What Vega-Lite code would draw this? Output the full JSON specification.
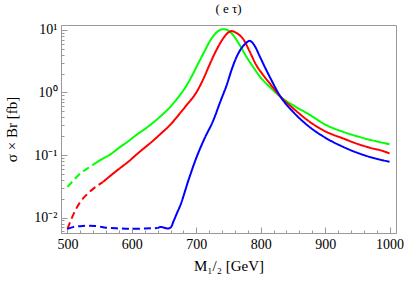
{
  "$schema": "https://vega.github.io/schema/vega-lite/v6.json",
  "width": 335,
  "height": 208,
  "autosize": {"type": "none"},
  "padding": {"left": 61, "top": 25, "right": 11, "bottom": 49},
  "background": "white",
  "title": {"text": "( e  τ)", "font": "Liberation Serif", "fontSize": 13, "fontWeight": "normal", "color": "black", "offset": 7},
  "config": {
    "view": {"stroke": "#999999", "strokeWidth": 1},
    "axis": {"grid": false, "domainColor": "#999999", "tickColor": "#999999", "labelFont": "Liberation Serif", "labelFontSize": 14, "labelColor": "black", "titleFont": "Liberation Serif", "titleFontSize": 15, "titleFontWeight": "normal", "titleColor": "black", "labelOverlap": false}
  },
  "data": {"values": [
    {"s": "g", "seg": "gd", "dash": "d", "x": 500, "y": 0.031},
    {"s": "g", "seg": "gd", "dash": "d", "x": 510, "y": 0.040},
    {"s": "g", "seg": "gd", "dash": "d", "x": 520, "y": 0.051},
    {"s": "g", "seg": "gd", "dash": "d", "x": 530, "y": 0.060},
    {"s": "g", "seg": "gd", "dash": "d", "x": 540, "y": 0.070},
    {"s": "g", "seg": "gs", "dash": "s", "x": 540, "y": 0.070},
    {"s": "g", "seg": "gs", "dash": "s", "x": 550, "y": 0.082},
    {"s": "g", "seg": "gs", "dash": "s", "x": 565, "y": 0.100},
    {"s": "g", "seg": "gs", "dash": "s", "x": 582, "y": 0.135},
    {"s": "g", "seg": "gs", "dash": "s", "x": 595, "y": 0.168},
    {"s": "g", "seg": "gs", "dash": "s", "x": 607, "y": 0.21},
    {"s": "g", "seg": "gs", "dash": "s", "x": 620, "y": 0.26},
    {"s": "g", "seg": "gs", "dash": "s", "x": 633, "y": 0.33},
    {"s": "g", "seg": "gs", "dash": "s", "x": 646, "y": 0.43},
    {"s": "g", "seg": "gs", "dash": "s", "x": 659, "y": 0.58},
    {"s": "g", "seg": "gs", "dash": "s", "x": 672, "y": 0.84},
    {"s": "g", "seg": "gs", "dash": "s", "x": 685, "y": 1.3},
    {"s": "g", "seg": "gs", "dash": "s", "x": 695, "y": 2.0},
    {"s": "g", "seg": "gs", "dash": "s", "x": 705, "y": 3.2},
    {"s": "g", "seg": "gs", "dash": "s", "x": 713, "y": 4.6},
    {"s": "g", "seg": "gs", "dash": "s", "x": 721, "y": 6.6},
    {"s": "g", "seg": "gs", "dash": "s", "x": 729, "y": 8.6},
    {"s": "g", "seg": "gs", "dash": "s", "x": 737, "y": 10.0},
    {"s": "g", "seg": "gs", "dash": "s", "x": 742, "y": 10.3},
    {"s": "g", "seg": "gs", "dash": "s", "x": 748, "y": 10.0},
    {"s": "g", "seg": "gs", "dash": "s", "x": 757, "y": 8.3},
    {"s": "g", "seg": "gs", "dash": "s", "x": 768, "y": 5.6},
    {"s": "g", "seg": "gs", "dash": "s", "x": 778, "y": 3.7},
    {"s": "g", "seg": "gs", "dash": "s", "x": 789, "y": 2.5},
    {"s": "g", "seg": "gs", "dash": "s", "x": 799, "y": 1.78},
    {"s": "g", "seg": "gs", "dash": "s", "x": 815, "y": 1.2},
    {"s": "g", "seg": "gs", "dash": "s", "x": 831, "y": 0.85},
    {"s": "g", "seg": "gs", "dash": "s", "x": 852, "y": 0.61},
    {"s": "g", "seg": "gs", "dash": "s", "x": 876, "y": 0.44},
    {"s": "g", "seg": "gs", "dash": "s", "x": 902, "y": 0.30},
    {"s": "g", "seg": "gs", "dash": "s", "x": 928, "y": 0.235},
    {"s": "g", "seg": "gs", "dash": "s", "x": 953, "y": 0.195},
    {"s": "g", "seg": "gs", "dash": "s", "x": 975, "y": 0.17},
    {"s": "g", "seg": "gs", "dash": "s", "x": 1000, "y": 0.149},

    {"s": "r", "seg": "rd", "dash": "d", "x": 500, "y": 0.0066},
    {"s": "r", "seg": "rd", "dash": "d", "x": 510, "y": 0.0117},
    {"s": "r", "seg": "rd", "dash": "d", "x": 520, "y": 0.0178},
    {"s": "r", "seg": "rd", "dash": "d", "x": 530, "y": 0.0234},
    {"s": "r", "seg": "rd", "dash": "d", "x": 540, "y": 0.0288},
    {"s": "r", "seg": "rd", "dash": "d", "x": 555, "y": 0.037},
    {"s": "r", "seg": "rs", "dash": "s", "x": 555, "y": 0.037},
    {"s": "r", "seg": "rs", "dash": "s", "x": 566, "y": 0.046},
    {"s": "r", "seg": "rs", "dash": "s", "x": 580, "y": 0.060},
    {"s": "r", "seg": "rs", "dash": "s", "x": 595, "y": 0.079},
    {"s": "r", "seg": "rs", "dash": "s", "x": 610, "y": 0.108},
    {"s": "r", "seg": "rs", "dash": "s", "x": 633, "y": 0.17},
    {"s": "r", "seg": "rs", "dash": "s", "x": 646, "y": 0.225},
    {"s": "r", "seg": "rs", "dash": "s", "x": 659, "y": 0.30},
    {"s": "r", "seg": "rs", "dash": "s", "x": 672, "y": 0.43},
    {"s": "r", "seg": "rs", "dash": "s", "x": 685, "y": 0.63},
    {"s": "r", "seg": "rs", "dash": "s", "x": 700, "y": 1.0},
    {"s": "r", "seg": "rs", "dash": "s", "x": 711, "y": 1.65},
    {"s": "r", "seg": "rs", "dash": "s", "x": 719, "y": 2.55},
    {"s": "r", "seg": "rs", "dash": "s", "x": 726, "y": 3.7},
    {"s": "r", "seg": "rs", "dash": "s", "x": 734, "y": 5.4},
    {"s": "r", "seg": "rs", "dash": "s", "x": 742, "y": 7.4},
    {"s": "r", "seg": "rs", "dash": "s", "x": 749, "y": 9.0},
    {"s": "r", "seg": "rs", "dash": "s", "x": 755, "y": 9.6},
    {"s": "r", "seg": "rs", "dash": "s", "x": 762, "y": 9.0},
    {"s": "r", "seg": "rs", "dash": "s", "x": 773, "y": 7.1},
    {"s": "r", "seg": "rs", "dash": "s", "x": 783, "y": 4.5},
    {"s": "r", "seg": "rs", "dash": "s", "x": 793, "y": 2.75},
    {"s": "r", "seg": "rs", "dash": "s", "x": 803, "y": 1.95},
    {"s": "r", "seg": "rs", "dash": "s", "x": 814, "y": 1.4},
    {"s": "r", "seg": "rs", "dash": "s", "x": 831, "y": 0.85},
    {"s": "r", "seg": "rs", "dash": "s", "x": 852, "y": 0.54},
    {"s": "r", "seg": "rs", "dash": "s", "x": 876, "y": 0.34},
    {"s": "r", "seg": "rs", "dash": "s", "x": 900, "y": 0.24},
    {"s": "r", "seg": "rs", "dash": "s", "x": 928, "y": 0.184},
    {"s": "r", "seg": "rs", "dash": "s", "x": 950, "y": 0.151},
    {"s": "r", "seg": "rs", "dash": "s", "x": 965, "y": 0.135},
    {"s": "r", "seg": "rs", "dash": "s", "x": 974, "y": 0.127},
    {"s": "r", "seg": "rs", "dash": "s", "x": 985, "y": 0.12},
    {"s": "r", "seg": "rs", "dash": "s", "x": 1000, "y": 0.106},

    {"s": "b", "seg": "bd", "dash": "d", "x": 500, "y": 0.0066},
    {"s": "b", "seg": "bd", "dash": "d", "x": 510, "y": 0.0071},
    {"s": "b", "seg": "bd", "dash": "d", "x": 520, "y": 0.0073},
    {"s": "b", "seg": "bd", "dash": "d", "x": 530, "y": 0.0074},
    {"s": "b", "seg": "bd", "dash": "d", "x": 545, "y": 0.0073},
    {"s": "b", "seg": "bd", "dash": "d", "x": 560, "y": 0.0069},
    {"s": "b", "seg": "bd", "dash": "d", "x": 580, "y": 0.0067},
    {"s": "b", "seg": "bd", "dash": "d", "x": 600, "y": 0.0066},
    {"s": "b", "seg": "bd", "dash": "d", "x": 620, "y": 0.0067},
    {"s": "b", "seg": "bd", "dash": "d", "x": 640, "y": 0.0068},
    {"s": "b", "seg": "bs", "dash": "s", "x": 640, "y": 0.0068},
    {"s": "b", "seg": "bs", "dash": "s", "x": 645, "y": 0.0071},
    {"s": "b", "seg": "bs", "dash": "s", "x": 650, "y": 0.0069},
    {"s": "b", "seg": "bs", "dash": "s", "x": 655, "y": 0.0067},
    {"s": "b", "seg": "bs", "dash": "s", "x": 660, "y": 0.0069},
    {"s": "b", "seg": "bs", "dash": "s", "x": 665, "y": 0.0089},
    {"s": "b", "seg": "bs", "dash": "s", "x": 670, "y": 0.0118},
    {"s": "b", "seg": "bs", "dash": "s", "x": 675, "y": 0.0155},
    {"s": "b", "seg": "bs", "dash": "s", "x": 688, "y": 0.040},
    {"s": "b", "seg": "bs", "dash": "s", "x": 700, "y": 0.09},
    {"s": "b", "seg": "bs", "dash": "s", "x": 713, "y": 0.186},
    {"s": "b", "seg": "bs", "dash": "s", "x": 726, "y": 0.35},
    {"s": "b", "seg": "bs", "dash": "s", "x": 737, "y": 0.70},
    {"s": "b", "seg": "bs", "dash": "s", "x": 747, "y": 1.3},
    {"s": "b", "seg": "bs", "dash": "s", "x": 756, "y": 2.5},
    {"s": "b", "seg": "bs", "dash": "s", "x": 762, "y": 3.6},
    {"s": "b", "seg": "bs", "dash": "s", "x": 770, "y": 5.1},
    {"s": "b", "seg": "bs", "dash": "s", "x": 776, "y": 6.0},
    {"s": "b", "seg": "bs", "dash": "s", "x": 783, "y": 6.7},
    {"s": "b", "seg": "bs", "dash": "s", "x": 790, "y": 5.7},
    {"s": "b", "seg": "bs", "dash": "s", "x": 799, "y": 3.7},
    {"s": "b", "seg": "bs", "dash": "s", "x": 806, "y": 2.6},
    {"s": "b", "seg": "bs", "dash": "s", "x": 814, "y": 1.78},
    {"s": "b", "seg": "bs", "dash": "s", "x": 831, "y": 0.85},
    {"s": "b", "seg": "bs", "dash": "s", "x": 852, "y": 0.47},
    {"s": "b", "seg": "bs", "dash": "s", "x": 876, "y": 0.28},
    {"s": "b", "seg": "bs", "dash": "s", "x": 900, "y": 0.19},
    {"s": "b", "seg": "bs", "dash": "s", "x": 928, "y": 0.135},
    {"s": "b", "seg": "bs", "dash": "s", "x": 960, "y": 0.10},
    {"s": "b", "seg": "bs", "dash": "s", "x": 1000, "y": 0.078}
  ]},
  "mark": {"type": "line", "strokeWidth": 2, "interpolate": "monotone", "clip": true},
  "encoding": {
    "x": {
      "field": "x", "type": "quantitative",
      "scale": {"domain": [490, 1010], "nice": false, "zero": false},
      "axis": {
        "title": "M₁/₂ [GeV]",
        "values": [500,520,540,560,580,600,620,640,660,680,700,720,740,760,780,800,820,840,860,880,900,920,940,960,980,1000],
        "format": "d",
        "labelExpr": "datum.value % 100 == 0 ? datum.label : ''",
        "tickSize": {"condition": {"test": "datum.value % 100 == 0", "value": -6}, "value": -3},
        "labelPadding": 10,
        "titlePadding": 4
      }
    },
    "y": {
      "field": "y", "type": "quantitative",
      "scale": {"type": "log", "domain": [0.00567, 12.0], "nice": false},
      "axis": {
        "title": "σ × Br [fb]",
        "values": [0.006,0.007,0.008,0.009,0.01,0.02,0.03,0.04,0.05,0.06,0.07,0.08,0.09,0.1,0.2,0.3,0.4,0.5,0.6,0.7,0.8,0.9,1,2,3,4,5,6,7,8,9,10],
        "labelExpr": "datum.value == 10 ? '10¹' : datum.value == 1 ? '10⁰' : datum.value == 0.1 ? '10⁻¹' : datum.value == 0.01 ? '10⁻²' : ''",
        "tickSize": {"condition": {"test": "abs(log(datum.value)/LN10 - round(log(datum.value)/LN10)) < 0.001", "value": -6}, "value": -3},
        "labelPadding": 10,
        "titlePadding": 14
      }
    },
    "color": {"field": "s", "type": "nominal", "scale": {"domain": ["g", "r", "b"], "range": ["#00ff00", "#ff0000", "#0000ff"]}, "legend": null},
    "strokeDash": {"field": "dash", "type": "nominal", "scale": {"domain": ["d", "s"], "range": [[7, 4], [1, 0]]}, "legend": null},
    "detail": {"field": "seg"}
  }
}
